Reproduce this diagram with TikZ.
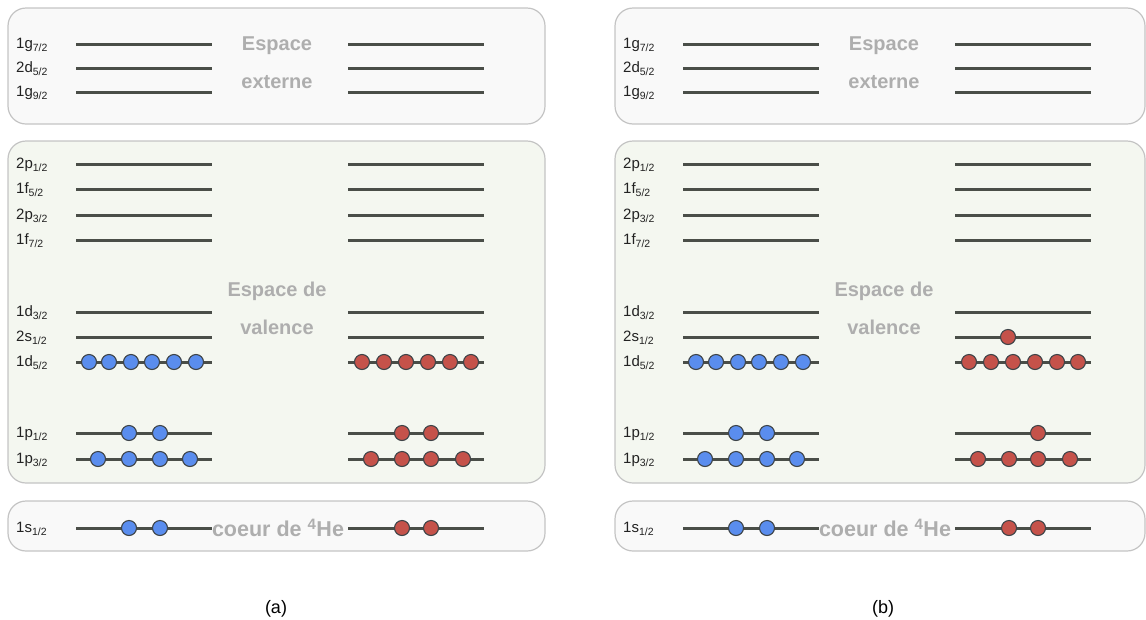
\documentclass[tikz,border=0pt]{standalone}
\usepackage{fontspec}
\setmainfont{Liberation Sans}
\definecolor{lvl}{HTML}{4A4E48}
\definecolor{boxline}{HTML}{C4C4C4}
\definecolor{boxA}{HTML}{F9F9F9}
\definecolor{boxB}{HTML}{F4F7F0}
\definecolor{ttl}{HTML}{AEAEAE}
\definecolor{blueb}{HTML}{5A8DEE}
\definecolor{redb}{HTML}{C5524A}
\definecolor{ballline}{HTML}{3E4448}
\definecolor{labc}{HTML}{222222}
\newcommand{\sbs}[1]{\raisebox{-3pt}{\fontsize{10.5}{10.5}\selectfont #1}}
\tikzset{
  panel/.style={draw=boxline, line width=1.2pt, rounded corners=18pt},
  level/.style={draw=lvl, line width=3pt},
  ball/.style={circle, draw=ballline, line width=1.1pt, minimum size=15pt, inner sep=0pt},
  nball/.style={ball, fill=blueb},
  pball/.style={ball, fill=redb},
  lab/.style={anchor=base west, inner sep=0pt, text=labc, font=\fontsize{15}{15}\selectfont},
  ttlstyle/.style={inner sep=0pt, text=ttl, font=\fontsize{20}{20}\selectfont\bfseries},
  coeurstyle/.style={inner sep=0pt, text=ttl, font=\fontsize{21.5}{21.5}\selectfont\bfseries},
  captext/.style={inner sep=0pt, font=\fontsize{18}{18}\selectfont}
}
\begin{document}
\begin{tikzpicture}[x=1pt,y=-1pt]
\useasboundingbox (0,0) rectangle (1146,619);
\foreach \p/\dx/\rx in {a/0/545, b/607/1145} {
  \draw[panel, fill=boxA] (8+\dx,8) rectangle (\rx,124);
  \draw[panel, fill=boxB] (8+\dx,141) rectangle (\rx,483);
  \draw[panel, fill=boxA] (8+\dx,501) rectangle (\rx,551);
  \foreach \i/\y/\n/\ja/\jb in {1/44/1g/7/2, 2/68/2d/5/2, 3/92/1g/9/2,
      4/164/2p/1/2, 5/189/1f/5/2, 6/215/2p/3/2, 7/240/1f/7/2,
      8/312/1d/3/2, 9/337/2s/1/2, 10/362/1d/5/2,
      11/433/1p/1/2, 12/459/1p/3/2, 13/528/1s/1/2} {
    \node[lab] (\p-lab\i) at (16+\dx,\y+4.5) {\n\sbs{\ja/\jb}};
    \coordinate (\p-L\i-a) at (76+\dx,\y);
    \coordinate (\p-L\i-b) at (212+\dx,\y);
    \coordinate (\p-R\i-a) at (348+\dx,\y);
    \coordinate (\p-R\i-b) at (484+\dx,\y);
    \draw[level] (\p-L\i-a) -- (\p-L\i-b);
    \draw[level] (\p-R\i-a) -- (\p-R\i-b);
  }
  \node[ttlstyle] (\p-t1) at (277+\dx,46) {Espace};
  \node[ttlstyle] (\p-t2) at (277+\dx,82) {externe};
  \node[ttlstyle] (\p-t3) at (277+\dx,291) {Espace de};
  \node[ttlstyle] (\p-t4) at (277+\dx,327) {valence};
  \node[coeurstyle] (\p-t5) at (278+\dx,528) {coeur de \textsuperscript{4}He};
  % neutrons (blue)
  \foreach \k/\x in {1/89,2/109,3/131,4/152,5/174,6/196}
    \node[nball] (\p-n10-\k) at (\x+\dx,362) {};
  \foreach \k/\x in {1/129,2/160}
    \node[nball] (\p-n11-\k) at (\x+\dx,433) {};
  \foreach \k/\x in {1/98,2/129,3/160,4/190}
    \node[nball] (\p-n12-\k) at (\x+\dx,459) {};
  \foreach \k/\x in {1/129,2/160}
    \node[nball] (\p-n13-\k) at (\x+\dx,528) {};
  % protons (red), common part
  \foreach \k/\x in {1/362,2/384,3/406,4/428,5/450,6/471}
    \node[pball] (\p-p10-\k) at (\x+\dx,362) {};
  \foreach \k/\x in {1/371,2/402,3/431,4/463}
    \node[pball] (\p-p12-\k) at (\x+\dx,459) {};
  \foreach \k/\x in {1/402,2/431}
    \node[pball] (\p-p13-\k) at (\x+\dx,528) {};
}
% panel (a): 1p1/2 protons
\node[pball] (a-p11-1) at (402,433) {};
\node[pball] (a-p11-2) at (431,433) {};
% panel (b): one proton promoted to 2s1/2
\node[pball] (b-p9-1) at (1008,337) {};
\node[pball] (b-p11-1) at (1038,433) {};
% captions
\node[captext] (capa) at (276,609) {(a)};
\node[captext] (capb) at (883,609) {(b)};
\end{tikzpicture}
\end{document}
